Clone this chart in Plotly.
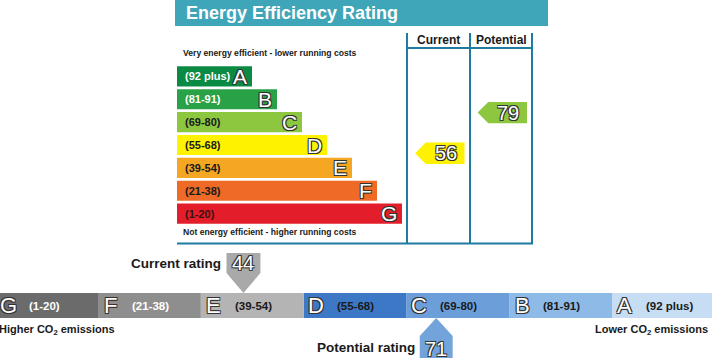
import plotly.graph_objects as go

# ---------------- data ----------------
bands = ["A", "B", "C", "D", "E", "F", "G"]
band_labels = ["(92 plus)", "(81-91)", "(69-80)", "(55-68)", "(39-54)", "(21-38)", "(1-20)"]
band_low = [92, 81, 69, 55, 39, 21, 1]
band_high = [100, 91, 80, 68, 54, 38, 20]
eer_current = 56
eer_potential = 79
co2_current = 44
co2_potential = 71

# ---------------- styles ----------------
W, H = 712, 358
FONT = "Liberation Sans, Arial, sans-serif"
eer_colors = ["#0b8a43", "#29a146", "#8dc63f", "#fff200", "#f5a623", "#ee6a26", "#e31e2a"]
eer_text = ["white", "white", "#1a1a1a", "#1a1a1a", "#1a1a1a", "#1a1a1a", "#3a1010"]
co2_colors = ["#c6ddf4", "#8ebae8", "#6c9fda", "#3c78c6", "#b4b4b4", "#8e8e8e", "#6b6b6b"]
co2_text = ["#1a1a1a", "#1a1a1a", "#1a1a1a", "#1a1a1a", "#1a1a1a", "white", "white"]
FRAME = "#1f7ba0"
TITLE_BG = "#3fa6b9"
OUTLINE = "-1px -1px 0 #333, 1px -1px 0 #333, -1px 1px 0 #333, 1px 1px 0 #333"
POINTER_OFFSET = 0.04


def px_x(x):
    return x / W


def px_y(y):
    return 1 - y / H


def locate(v):
    for i, (lo, hi) in enumerate(zip(band_low, band_high)):
        if lo <= v <= hi:
            return i, (v - lo + 1) / (hi - lo + 1)
    return 6, 0.0


def ptext(x, y, text, size, xanchor="left", color="#1a1a1a", weight=700, xshift=0):
    return dict(x=px_x(x), y=px_y(y), xref="paper", yref="paper", text=text,
                xanchor=xanchor, yanchor="middle", showarrow=False, xshift=xshift,
                font=dict(family=FONT, size=size, color=color, weight=weight))


fig = go.Figure()

# ---- top chart: EER bars ----
idx = list(range(len(bands)))
fig.add_trace(go.Bar(
    orientation="h", y=idx, x=[3 + i for i in idx], width=0.88,
    marker=dict(color=eer_colors, line=dict(width=0)),
    xaxis="x", yaxis="y", hoverinfo="skip"))

annotations = []
for i in idx:
    annotations.append(dict(x=0, y=i, xref="x", yref="y", text=band_labels[i],
                            xanchor="left", yanchor="middle", xshift=6, showarrow=False,
                            font=dict(family=FONT, size=11, color=eer_text[i], weight=700)))
    annotations.append(dict(x=3 + i, y=i, xref="x", yref="y", text=bands[i],
                            xanchor="right", yanchor="middle", xshift=-3, showarrow=False,
                            font=dict(family=FONT, size=21, color="white", shadow=OUTLINE)))

# ---- rating arrows (current/potential columns) ----
for col, val in enumerate([eer_current, eer_potential]):
    bi, fr = locate(val)
    yc = bi + 0.5 - fr
    h = 0.47
    xs = [col + 0.13, col + 0.3, col + 0.92, col + 0.92, col + 0.3, col + 0.13]
    ys = [yc, yc - h, yc - h, yc + h, yc + h, yc]
    fig.add_trace(go.Scatter(x=xs, y=ys, mode="lines", fill="toself",
                             fillcolor=eer_colors[bi], line=dict(width=0),
                             xaxis="x3", yaxis="y", hoverinfo="skip"))
    annotations.append(dict(x=col + 0.62, y=yc, xref="x3", yref="y", text=str(val),
                            showarrow=False, xanchor="center", yanchor="middle",
                            font=dict(family=FONT, size=20, color="white", shadow=OUTLINE)))

# ---- bottom chart: CO2 bar ----
pos = [len(bands) - 1 - i for i in idx]
fig.add_trace(go.Bar(
    orientation="h", y=[0.5] * len(bands), x=[1] * len(bands), base=pos, width=1,
    marker=dict(color=co2_colors, line=dict(width=0)),
    xaxis="x2", yaxis="y2", hoverinfo="skip"))
for i in idx:
    annotations.append(dict(x=pos[i] + 0.125, y=0.5, xref="x2", yref="y2", text=bands[i],
                            showarrow=False, xanchor="center", yanchor="middle",
                            font=dict(family=FONT, size=22, color="white", shadow=OUTLINE)))
    annotations.append(dict(x=pos[i] + 0.31, y=0.5, xref="x2", yref="y2", text=band_labels[i],
                            xanchor="left", yanchor="middle", showarrow=False,
                            font=dict(family=FONT, size=11.5, color=co2_text[i], weight=700)))

# current CO2 marker (points down onto bar)
bi, fr = locate(co2_current)
xc = pos[bi] + fr + POINTER_OFFSET
hw = 0.165
fig.add_trace(go.Scatter(x=[xc - hw, xc + hw, xc + hw, xc, xc - hw, xc - hw],
                         y=[2.6, 2.6, 1.8, 1.0, 1.8, 2.6], mode="lines", fill="toself",
                         fillcolor="#a9a9a9", line=dict(width=0),
                         xaxis="x2", yaxis="y2", hoverinfo="skip"))
annotations.append(dict(x=xc, y=2.2, xref="x2", yref="y2", text=str(co2_current), showarrow=False,
                        xanchor="center", yanchor="middle",
                        font=dict(family=FONT, size=20, color="white", shadow=OUTLINE)))
annotations.append(dict(x=xc, y=2.2, xref="x2", yref="y2", text="Current rating", showarrow=False,
                        xanchor="right", yanchor="middle", xshift=-20,
                        font=dict(family=FONT, size=13.5, color="#1a1a1a", weight=700)))

# potential CO2 marker (points up onto bar)
bi, fr = locate(co2_potential)
xp = pos[bi] + fr + POINTER_OFFSET
hw = 0.16
fig.add_trace(go.Scatter(x=[xp, xp + hw, xp + hw, xp - hw, xp - hw, xp],
                         y=[0, -0.72, -1.8, -1.8, -0.72, 0], mode="lines", fill="toself",
                         fillcolor="#72a3db", line=dict(width=0),
                         xaxis="x2", yaxis="y2", hoverinfo="skip"))
annotations.append(dict(x=xp, y=-1.24, xref="x2", yref="y2", text=str(co2_potential), showarrow=False,
                        xanchor="center", yanchor="middle",
                        font=dict(family=FONT, size=20, color="white", shadow=OUTLINE)))
annotations.append(dict(x=xp, y=-1.18, xref="x2", yref="y2", text="Potential rating", showarrow=False,
                        xanchor="right", yanchor="middle", xshift=-19,
                        font=dict(family=FONT, size=13.5, color="#1a1a1a", weight=700)))

# ---- static texts ----
annotations += [
    ptext(186, 13, "Energy Efficiency Rating", 18, color="white", xshift=-2),
    ptext(183, 53, "Very energy efficient - lower running costs", 8.6, xshift=-2),
    ptext(183, 232, "Not energy efficient - higher running costs", 8.6, xshift=-2),
    ptext(438.5, 40, "Current", 12, xanchor="center"),
    ptext(501, 40, "Potential", 12, xanchor="center"),
    ptext(0, 330, "Higher CO<sub>2</sub> emissions", 11, xshift=-3),
    ptext(709, 330, "Lower CO<sub>2</sub> emissions", 11, xanchor="right", xshift=1),
]

# ---- decorative frame ----
shapes = [
    dict(type="rect", xref="paper", yref="paper", x0=px_x(175), x1=px_x(548), y0=px_y(26), y1=px_y(0),
         fillcolor=TITLE_BG, line=dict(width=0), layer="below"),
]
for xv in [407, 470, 532]:
    shapes.append(dict(type="line", xref="paper", yref="paper", x0=px_x(xv), x1=px_x(xv),
                       y0=px_y(33), y1=px_y(244), line=dict(color=FRAME, width=2)))
shapes.append(dict(type="line", xref="paper", yref="paper", x0=px_x(407), x1=px_x(533),
                   y0=px_y(48), y1=px_y(48), line=dict(color=FRAME, width=2)))
shapes.append(dict(type="line", xref="paper", yref="paper", x0=px_x(177), x1=px_x(533),
                   y0=px_y(243.5), y1=px_y(243.5), line=dict(color=FRAME, width=2)))

ax = dict(visible=False, fixedrange=True, showgrid=False, zeroline=False)
fig.update_layout(
    width=W, height=H, margin=dict(l=0, r=0, t=0, b=0),
    paper_bgcolor="white", plot_bgcolor="rgba(0,0,0,0)", showlegend=False,
    xaxis=dict(ax, domain=[px_x(177), 1], range=[0, (W - 177) / 25], anchor="y"),
    yaxis=dict(ax, domain=[px_y(225), px_y(65)], range=[6.5, -0.5], anchor="x"),
    xaxis3=dict(ax, domain=[px_x(407), px_x(532)], range=[0, 2], anchor="y"),
    xaxis2=dict(ax, domain=[0, 1], range=[1 - 98 / 102.8, 1 - 98 / 102.8 + W / 102.8], anchor="y2"),
    yaxis2=dict(ax, domain=[0, px_y(250)], range=[-1.6, 2.72], anchor="x2"),
    annotations=annotations, shapes=shapes,
)

fig.write_html("out.html", config={"displayModeBar": False},
               post_script="document.body.style.margin='0';document.body.style.overflow='hidden';")
